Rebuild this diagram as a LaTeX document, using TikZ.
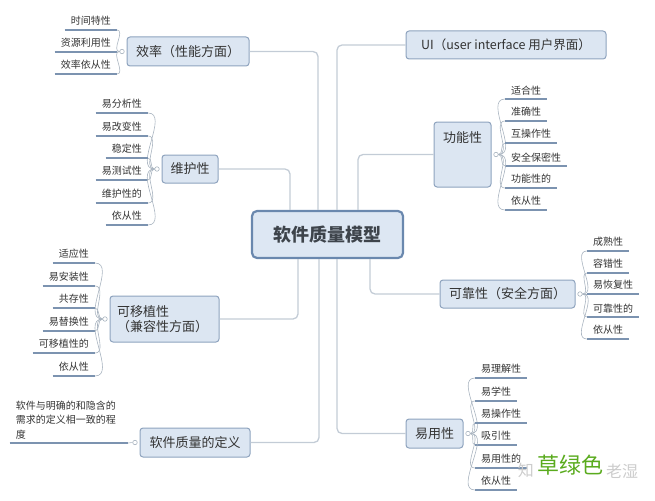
\documentclass[tikz,border=0pt]{standalone}
\usepackage{fontspec}
\setmainfont{Noto Sans CJK SC}
\definecolor{boxfill}{HTML}{DCE6F2}
\definecolor{boxdraw}{HTML}{8EA3BE}
\definecolor{mainfill}{HTML}{DDE7F3}
\definecolor{maindraw}{HTML}{6A88AE}
\definecolor{connc}{HTML}{C3CCD6}
\definecolor{ulc}{HTML}{7C93B0}
\definecolor{curvec}{HTML}{A9B4C0}
\definecolor{txt}{HTML}{333333}
\definecolor{grn}{HTML}{5AAB1E}
\tikzset{
  box/.style={draw=boxdraw, fill=boxfill, line width=1pt, rounded corners=3pt, inner sep=0pt, font=\fontsize{13}{15}\selectfont, text=txt},
  mainbox/.style={draw=maindraw, fill=mainfill, line width=2.2pt, rounded corners=5pt, inner sep=0pt, font=\fontsize{18}{20}\selectfont\bfseries, text=txt!80!maindraw},
  leafL/.style={anchor=south east, inner xsep=6pt, inner ysep=4pt, font=\fontsize{10}{12}\selectfont, text=txt},
  leafR/.style={anchor=south west, inner xsep=6pt, inner ysep=4pt, font=\fontsize{10}{12}\selectfont, text=txt},
  uline/.style={draw=ulc, line width=1.3pt},
  conn/.style={draw=connc, line width=1.3pt, rounded corners=5pt},
  brace/.style={draw=curvec, line width=0.6pt},
  jdot/.style={circle, draw=curvec, fill=white, inner sep=0pt, minimum size=4.5pt, line width=0.6pt},
  wmark/.style={text=black!20, font=\fontsize{16}{18}\selectfont, inner sep=0pt},
}
\begin{document}
\begin{tikzpicture}[x=1pt,y=-1pt]
\useasboundingbox (0,0) rectangle (655,500);

% central
\node[mainbox, minimum width=151pt, minimum height=47pt] (c) at (327.5,234.5) {软件质量模型};

% first level boxes
\node[box, minimum width=122pt, minimum height=29pt] (eff) at (188,51.5) {效率（性能方面）};
\node[box, minimum width=200pt, minimum height=28pt, font=\fontsize{12.5}{15}\selectfont] (ui) at (506,45) {UI（user interface 用户界面）};
\node[box, minimum width=57pt, minimum height=65pt] (func) at (462.5,154.5) {};
\node[font=\fontsize{13}{15}\selectfont, text=txt, inner sep=0pt] (functxt) at ([yshift=-16pt]func.north) {功能性};
\node[box, minimum width=56pt, minimum height=28pt] (mnt) at (190,169) {维护性};
\node[box, minimum width=109pt, minimum height=46pt, align=left, text width=95pt] (port) at (164.5,319) {可移植性\\（兼容性方面）};
\node[box, minimum width=135pt, minimum height=28pt] (rel) at (507.5,294) {可靠性（安全方面）};
\node[box, minimum width=110pt, minimum height=29pt] (def) at (195,442.5) {软件质量的定义};
\node[box, minimum width=57pt, minimum height=29pt] (use) at (434.5,433.5) {易用性};

% main connectors
\draw[conn] ([xshift=-9.5pt]c.north) |- (eff.east);
\draw[conn] ([xshift=9.5pt]c.north) |- (ui.west);
\draw[conn] ([xshift=30.5pt]c.north) |- (func.west);
\draw[conn] ([xshift=-37.5pt]c.north) |- (mnt.east);
\draw[conn] ([xshift=-29.5pt]c.south) |- (port.east);
\draw[conn] ([xshift=-8.5pt]c.south) |- (def.east);
\draw[conn] ([xshift=42.5pt]c.south) |- (rel.west);
\draw[conn] ([xshift=9.5pt]c.south) |- (use.west);

% junction dots
\node[jdot] (jeff) at ([xshift=-4.5pt]eff.west) {};
\node[jdot] (jmnt) at ([xshift=-4.5pt]mnt.west) {};
\node[jdot] (jport) at ([xshift=-4.5pt]port.west) {};
\node[jdot] (jdef) at ([xshift=-4.5pt]def.west) {};
\node[jdot] (jfunc) at ([xshift=4.5pt]func.east) {};
\node[jdot] (jrel) at ([xshift=4.5pt]rel.east) {};
\node[jdot] (juse) at ([xshift=4.5pt]use.east) {};

% efficiency leaves
\foreach \n/\t/\y in {e1/时间特性/30, e2/资源利用性/52, e3/效率依从性/74}{
  \node[leafL] (\n) at (117,\y) {\t};
  \draw[uline] (\n.south west) -- (\n.south east);
  \draw[brace] (jeff.west) to[out=180,in=0] (\n.south east);
}
% maintainability leaves
\foreach \n/\t/\y in {m1/易分析性/113, m2/易改变性/136, m3/稳定性/158, m4/易测试性/180, m5/维护性的/203, m6/依从性/225}{
  \node[leafL] (\n) at (148,\y) {\t};
  \draw[uline] (\n.south west) -- (\n.south east);
  \draw[brace] (jmnt.west) to[out=180,in=0] (\n.south east);
}
% portability leaves
\foreach \n/\t/\y in {p1/适应性/263, p2/易安装性/286, p3/共存性/308, p4/易替换性/331, p5/可移植性的/353, p6/依从性/376}{
  \node[leafL] (\n) at (95,\y) {\t};
  \draw[uline] (\n.south west) -- (\n.south east);
  \draw[brace] (jport.west) to[out=180,in=0] (\n.south east);
}
% definition leaf
\node[leafL, text width=106pt, align=left, font=\fontsize{10}{14.5}\selectfont] (d1) at (128,443) {软件与明确的和隐含的\\需求的定义相一致的程\\度};
\draw[uline] (d1.south west) -- (d1.south east);
\draw[brace] (jdef.west) -- (d1.south east);

% functionality leaves
\foreach \n/\t/\y in {f1/适合性/99, f2/准确性/121, f3/互操作性/143, f4/安全保密性/166, f5/功能性的/188, f6/依从性/210}{
  \node[leafR] (\n) at (505,\y) {\t};
  \draw[uline] (\n.south west) -- (\n.south east);
  \draw[brace] (jfunc.east) to[out=0,in=180] (\n.south west);
}
% reliability leaves
\foreach \n/\t/\y in {r1/成熟性/251, r2/容错性/273, r3/易恢复性/294, r4/可靠性的/317, r5/依从性/339}{
  \node[leafR] (\n) at (587,\y) {\t};
  \draw[uline] (\n.south west) -- (\n.south east);
  \draw[brace] (jrel.east) to[out=0,in=180] (\n.south west);
}
% usability leaves
\foreach \n/\t/\y in {u1/易理解性/378, u2/易学性/401, u3/易操作性/423, u4/吸引性/445, u5/易用性的/468, u6/依从性/490}{
  \node[leafR] (\n) at (475,\y) {\t};
  \draw[uline] (\n.south west) -- (\n.south east);
  \draw[brace] (juse.east) to[out=0,in=180] (\n.south west);
}

% watermark (partly hidden behind the green label) and green label
\node[wmark, anchor=east] (wm1) at (534,470) {知};
\node[wmark, anchor=west] (wm2) at (606,471) {老湿};
\node[text=grn, font=\fontsize{22}{24}\selectfont, inner sep=0pt] (green) at (570,465) {草绿色};
\end{tikzpicture}
\end{document}
